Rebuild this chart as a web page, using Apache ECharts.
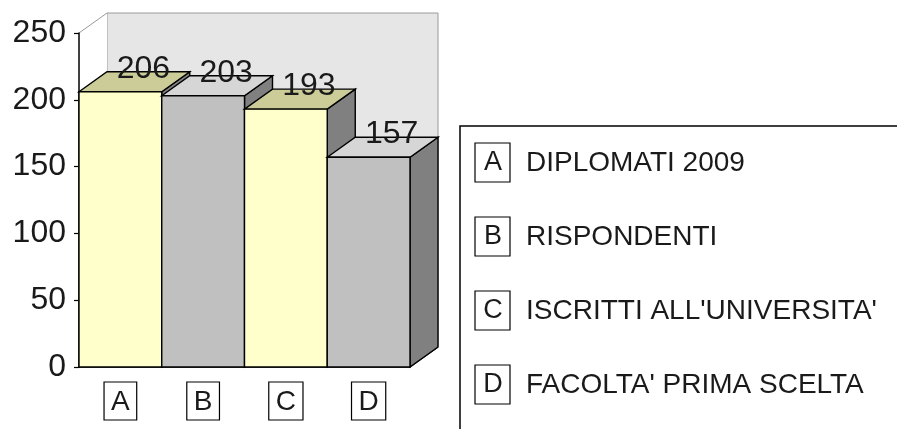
<!DOCTYPE html>
<html>
<head>
<meta charset="utf-8">
<script src="https://cdn.jsdelivr.net/npm/echarts@6/dist/echarts.min.js"></script>
<style>
  html, body { margin: 0; padding: 0; background: #fff; }
  #chart { width: 897px; height: 429px; }
</style>
</head>
<body>
<div id="chart"></div>
<script>
// data
const categories = ['A', 'B', 'C', 'D'];
const descriptions = ['DIPLOMATI 2009', 'RISPONDENTI', "ISCRITTI ALL'UNIVERSITA'", "FACOLTA' PRIMA SCELTA"];
const values = [206, 203, 193, 157];
const yTicks = [0, 50, 100, 150, 200, 250];

// 3d look
const DX = 28, DY = 20;
const faceColors = [
  { front: '#ffffcc', top: '#cccc99', side: '#808080' },
  { front: '#c0c0c0', top: '#d6d6d6', side: '#808080' }
];
const FONT = '"Liberation Sans", Arial, sans-serif';

const chart = echarts.init(document.getElementById('chart'));

function renderWall(params, api) {
  const cs = params.coordSys;
  const x0 = cs.x, y0 = cs.y, x1 = cs.x + cs.width, y1 = cs.y + cs.height;
  return {
    type: 'group',
    silent: true,
    children: [
      { type: 'rect', shape: { x: x0 + DX, y: y0 - DY, width: cs.width, height: cs.height },
        style: { fill: '#e6e6e6', stroke: '#9a9a9a', lineWidth: 1 } },
      { type: 'rect', shape: { x: x0, y: y0 - DY, width: DX, height: cs.height + DY },
        style: { fill: '#fff' } },
      { type: 'line', shape: { x1: x0, y1: y0, x2: x0 + DX, y2: y0 - DY },
        style: { stroke: '#9a9a9a', lineWidth: 1 } },
      { type: 'line', shape: { x1: x1, y1: y1, x2: x1 + DX, y2: y1 - DY },
        style: { stroke: '#111', lineWidth: 1.5 } }
    ]
  };
}

function renderBar(params, api) {
  const idx = api.value(0);
  const v = api.value(1);
  const base = api.coord([idx, 0]);
  const top = api.coord([idx, v]);
  const bw = api.size([1, 0])[0];
  const l = base[0] - bw / 2, r = base[0] + bw / 2;
  const t = top[1], b = base[1];
  const c = faceColors[idx % 2];
  const edge = { stroke: '#000', lineWidth: 1.4 };
  return {
    type: 'group',
    children: [
      { type: 'polygon', shape: { points: [[r, t], [r + DX, t - DY], [r + DX, b - DY], [r, b]] },
        style: Object.assign({ fill: c.side }, edge) },
      { type: 'polygon', shape: { points: [[l, t], [l + DX, t - DY], [r + DX, t - DY], [r, t]] },
        style: Object.assign({ fill: c.top }, edge) },
      { type: 'rect', shape: { x: l, y: t, width: bw, height: b - t },
        style: Object.assign({ fill: c.front }, edge) },
      { type: 'text', x: base[0] + DX - 5, y: t - DY - 3,
        style: { text: String(v), fill: '#1a1a1a', font: '32px ' + FONT,
                 textAlign: 'center', textVerticalAlign: 'middle' } }
    ]
  };
}

// legend built from categories/descriptions
const legendLeft = 460, legendTop = 126, rowGap = 74;
const legendChildren = [
  { type: 'rect', shape: { x: legendLeft, y: legendTop, width: 480, height: 340 },
    style: { fill: 'none', stroke: '#000', lineWidth: 1.5 } }
];
categories.forEach(function (cat, i) {
  const cy = legendTop + 36 + i * rowGap;
  legendChildren.push(
    { type: 'rect', shape: { x: legendLeft + 15, y: cy - 19, width: 35, height: 39 },
      style: { fill: '#fff', stroke: '#000', lineWidth: 1.2 } },
    { type: 'text', x: legendLeft + 33, y: cy + 1,
      style: { text: cat, fill: '#1a1a1a', font: '27px ' + FONT,
               textAlign: 'center', textVerticalAlign: 'middle' } },
    { type: 'text', x: legendLeft + 66, y: cy + 1,
      style: { text: descriptions[i], fill: '#1a1a1a', font: '28px ' + FONT,
               textVerticalAlign: 'middle' } }
  );
});

const option = {
  animation: false,
  grid: { left: 79, top: 33, width: 331, bottom: 62 },
  xAxis: {
    type: 'category',
    data: categories,
    axisLine: { lineStyle: { color: '#000', width: 1.5 } },
    axisTick: { show: false },
    axisLabel: {
      margin: 15,
      color: '#1a1a1a',
      fontFamily: FONT,
      fontSize: 28,
      borderColor: '#000',
      borderWidth: 1.2,
      padding: [6, 7, 4, 7]
    },
    splitLine: { show: false }
  },
  yAxis: {
    type: 'value',
    min: yTicks[0],
    max: yTicks[yTicks.length - 1],
    interval: yTicks[1] - yTicks[0],
    axisLine: { show: true, lineStyle: { color: '#000', width: 1.5 } },
    axisTick: { show: true, length: 5, lineStyle: { color: '#000', width: 1.2 } },
    axisLabel: { margin: 13, color: '#1a1a1a', fontFamily: FONT, fontSize: 32 },
    splitLine: { show: false }
  },
  graphic: [{ type: 'group', children: legendChildren }],
  series: [
    { type: 'custom', renderItem: renderWall, data: [[0, 0]], z: 0, silent: true },
    { type: 'custom', renderItem: renderBar, z: 3,
      data: values.map(function (v, i) { return [i, v]; }) }
  ]
};

chart.setOption(option);
</script>
</body>
</html>
